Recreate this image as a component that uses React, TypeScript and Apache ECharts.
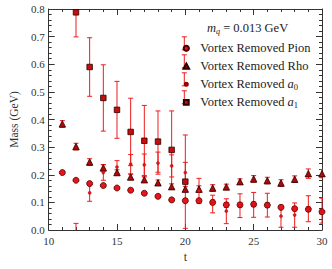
import React, { useEffect, useRef } from "react";
import * as echarts from "echarts";

const tValues = [11, 12, 13, 14, 15, 16, 17, 18, 19, 20, 21, 22, 23, 24, 25, 26, 27, 28, 29, 30];

const pionMass = [0.208, 0.180, 0.168, 0.161, 0.152, 0.144, 0.133, 0.122, 0.109, 0.106, 0.106, 0.100, 0.091, 0.091, 0.093, 0.090, 0.082, 0.077, 0.075, 0.066];
const pionErr = [0.004, 0.004, 0.005, 0.005, 0.005, 0.005, 0.006, 0.006, 0.006, 0.007, 0.007, 0.008, 0.008, 0.008, 0.008, 0.008, 0.006, 0.007, 0.008, 0.009];

const rhoMass = [0.384, 0.302, 0.246, 0.225, 0.208, 0.192, 0.182, 0.171, 0.157, 0.148, 0.148, 0.152, 0.156, 0.175, 0.185, 0.179, 0.170, 0.184, 0.204, 0.204];
const rhoErr = [0.012, 0.012, 0.012, 0.012, 0.010, 0.010, 0.010, 0.010, 0.010, 0.010, 0.012, 0.012, 0.010, 0.010, 0.012, 0.012, 0.012, 0.012, 0.017, 0.015];

const a0Mass = [null, -0.010, 0.134, 0.208, 0.228, 0.238, 0.236, 0.242, 0.232, 0.208, 0.142, 0.094, 0.068, 0.088, 0.091, 0.090, 0.050, 0.054, 0.077, 0.070];
const a0Err = [null, 0.034, 0.030, 0.028, 0.023, 0.035, 0.039, 0.040, 0.040, 0.037, 0.045, 0.032, 0.045, 0.043, 0.045, 0.043, 0.040, 0.044, 0.047, 0.045];

const a1Mass = [null, 0.788, 0.590, 0.478, 0.435, 0.355, 0.323, 0.320, 0.290, 0.175, null, null, null, null, null, null, null, null, null, null];
const a1Err = [null, 0.089, 0.106, 0.120, 0.103, 0.122, 0.128, 0.111, 0.141, 0.169, null, null, null, null, null, null, null, null, null, null];

const seriesNames = ["Vortex Removed Pion", "Vortex Removed Rho", "Vortex Removed a0", "Vortex Removed a1"];
const legendLabels = ["Vortex Removed Pion", "Vortex Removed Rho", "Vortex Removed {i|a}{s|0}", "Vortex Removed {i|a}{s|1}"];

const xTicks = { min: 10, max: 30, interval: 5 };
const yTicks = { min: 0, max: 0.8, interval: 0.1 };

const ERR_COLOR = "#ee1c1c";
const FONT = "serif";

function points(vals: (number | null)[]) {
  const out: number[][] = [];
  vals.forEach((v, i) => {
    if (v != null) out.push([tValues[i], v]);
  });
  return out;
}

function bars(vals: (number | null)[], errs: (number | null)[]) {
  const out: number[][] = [];
  vals.forEach((v, i) => {
    const e = errs[i];
    if (v != null && e != null) out.push([tValues[i], v - e, v + e]);
  });
  return out;
}

const renderErr = (params: any, api: any) => {
  const x = api.value(0);
  const p1 = api.coord([x, api.value(1)]);
  const p2 = api.coord([x, api.value(2)]);
  const cw = 2.5;
  const style = { stroke: ERR_COLOR, lineWidth: 1, fill: null };
  return {
    type: "group",
    children: [
      { type: "line", shape: { x1: p1[0], y1: p1[1], x2: p2[0], y2: p2[1] }, style },
      { type: "line", shape: { x1: p1[0] - cw, y1: p1[1], x2: p1[0] + cw, y2: p1[1] }, style },
      { type: "line", shape: { x1: p2[0] - cw, y1: p2[1], x2: p2[0] + cw, y2: p2[1] }, style },
    ],
  };
};

function errSeries(name: string, vals: (number | null)[], errs: (number | null)[]) {
  return {
    type: "custom",
    name,
    clip: true,
    z: 1,
    renderItem: renderErr,
    encode: { x: 0, y: [1, 2] },
    data: bars(vals, errs),
    silent: true,
  };
}

const axisCommon = {
  axisLine: { show: true, onZero: false, lineStyle: { color: "#333", width: 1 } },
  axisTick: { show: true, inside: true, length: 6, lineStyle: { color: "#333" } },
  minorTick: { show: true, splitNumber: 5, length: 3, lineStyle: { color: "#333" } },
  splitLine: { show: false },
  minorSplitLine: { show: false },
};

const legendRowsY = [43.3, 61.3, 79.3, 97.3];
const legendX = 184.3;

export default function App() {
  const ref = useRef<HTMLDivElement>(null);
  useEffect(() => {
    if (!ref.current) return;
    const chart = echarts.init(ref.current, null, { renderer: "svg" });
    const labelStyle = { color: "#333", fontFamily: FONT, fontSize: 11 };
    const legendErrBars: any[] = [];
    legendRowsY.forEach((cy) => {
      const style = { stroke: ERR_COLOR, lineWidth: 1 };
      legendErrBars.push(
        { type: "line", z: 1, shape: { x1: legendX, y1: cy - 6.5, x2: legendX, y2: cy + 6.5 }, style },
        { type: "line", z: 1, shape: { x1: legendX - 2.5, y1: cy - 6.5, x2: legendX + 2.5, y2: cy - 6.5 }, style },
        { type: "line", z: 1, shape: { x1: legendX - 2.5, y1: cy + 6.5, x2: legendX + 2.5, y2: cy + 6.5 }, style }
      );
    });
    chart.setOption({
      animation: false,
      backgroundColor: "#fff",
      title: {
        text: "{i|m}{s|q} = 0.013 GeV",
        left: 202,
        top: 16,
        textStyle: {
          fontFamily: FONT,
          fontSize: 12.5,
          fontWeight: "normal",
          color: "#222",
          rich: {
            i: { fontFamily: FONT, fontStyle: "italic", fontSize: 12.5, color: "#222" },
            s: { fontFamily: FONT, fontStyle: "italic", fontSize: 8, color: "#222", verticalAlign: "bottom", padding: [6, 0, 0, 0] },
          },
        },
      },
      grid: { left: 37, right: 10, top: 9, bottom: 39 },
      legend: {
        orient: "vertical",
        left: legendX - 9,
        top: legendRowsY[0] - 7,
        itemWidth: 18,
        itemHeight: 10,
        itemGap: 4,
        z: 5,
        data: [
          { name: seriesNames[0], icon: "path://M0,0 M10,10 M5,2.4 A2.6,2.6 0 1 1 5,7.6 A2.6,2.6 0 1 1 5,2.4 Z" },
          { name: seriesNames[1], icon: "path://M0,0 M10,10 M5,2.2 L7.8,7.4 L2.2,7.4 Z" },
          { name: seriesNames[2], icon: "path://M0,0 M10,10 M5,3.5 A1.5,1.5 0 1 1 5,6.5 A1.5,1.5 0 1 1 5,3.5 Z" },
          { name: seriesNames[3], icon: "path://M0,0 M10,10 M2.6,2.6 L7.4,2.6 L7.4,7.4 L2.6,7.4 Z" },
        ],
        formatter: (name: string) => legendLabels[seriesNames.indexOf(name)],
        textStyle: {
          fontFamily: FONT,
          fontSize: 12.5,
          color: "#222",
          lineHeight: 14,
          rich: {
            i: { fontFamily: FONT, fontStyle: "italic", fontSize: 12.5, color: "#222" },
            s: { fontFamily: FONT, fontSize: 8.5, color: "#222", verticalAlign: "bottom", padding: [7, 0, 0, 0] },
          },
        },
      },
      graphic: legendErrBars,
      xAxis: [
        {
          type: "value",
          ...xTicks,
          position: "bottom",
          name: "t",
          nameLocation: "middle",
          nameGap: 21,
          nameTextStyle: { ...labelStyle, fontSize: 12 },
          axisLabel: { ...labelStyle, margin: 5 },
          ...axisCommon,
        },
        {
          type: "value",
          ...xTicks,
          position: "top",
          axisLabel: { show: false },
          ...axisCommon,
        },
      ],
      yAxis: [
        {
          type: "value",
          ...yTicks,
          position: "left",
          name: "Mass (GeV)",
          nameLocation: "middle",
          nameGap: 21,
          nameTextStyle: { ...labelStyle, fontSize: 11.5 },
          axisLabel: { ...labelStyle, margin: 4, formatter: (v: number) => v.toFixed(1) },
          ...axisCommon,
        },
        {
          type: "value",
          ...yTicks,
          position: "right",
          axisLabel: { show: false },
          ...axisCommon,
        },
      ],
      series: [
        errSeries("errPion", pionMass, pionErr),
        errSeries("errRho", rhoMass, rhoErr),
        errSeries("errA0", a0Mass, a0Err),
        errSeries("errA1", a1Mass, a1Err),
        {
          type: "scatter",
          name: seriesNames[0],
          symbol: "circle",
          symbolSize: 6,
          z: 3,
          itemStyle: { color: "#e8141a", borderColor: "#4a0000", borderWidth: 0.8, opacity: 1 },
          data: points(pionMass),
        },
        {
          type: "scatter",
          name: seriesNames[1],
          symbol: "triangle",
          symbolSize: 6.5,
          z: 3,
          itemStyle: { color: "#b00808", borderColor: "#2a0000", borderWidth: 0.8, opacity: 1 },
          data: points(rhoMass),
        },
        {
          type: "scatter",
          name: seriesNames[2],
          symbol: "circle",
          symbolSize: 3.2,
          z: 3,
          itemStyle: { color: "#e8141a", borderColor: "#8a0000", borderWidth: 0.3, opacity: 1 },
          data: points(a0Mass),
        },
        {
          type: "scatter",
          name: seriesNames[3],
          symbol: "rect",
          symbolSize: 5.5,
          z: 3,
          itemStyle: { color: "#c80d0d", borderColor: "#2a0000", borderWidth: 0.8, opacity: 1 },
          data: points(a1Mass),
        },
      ],
    });
    return () => chart.dispose();
  }, []);
  return (
    <div
      ref={ref}
      style={{ position: "absolute", left: 0, top: 0, width: 332, height: 269 }}
    />
  );
}
